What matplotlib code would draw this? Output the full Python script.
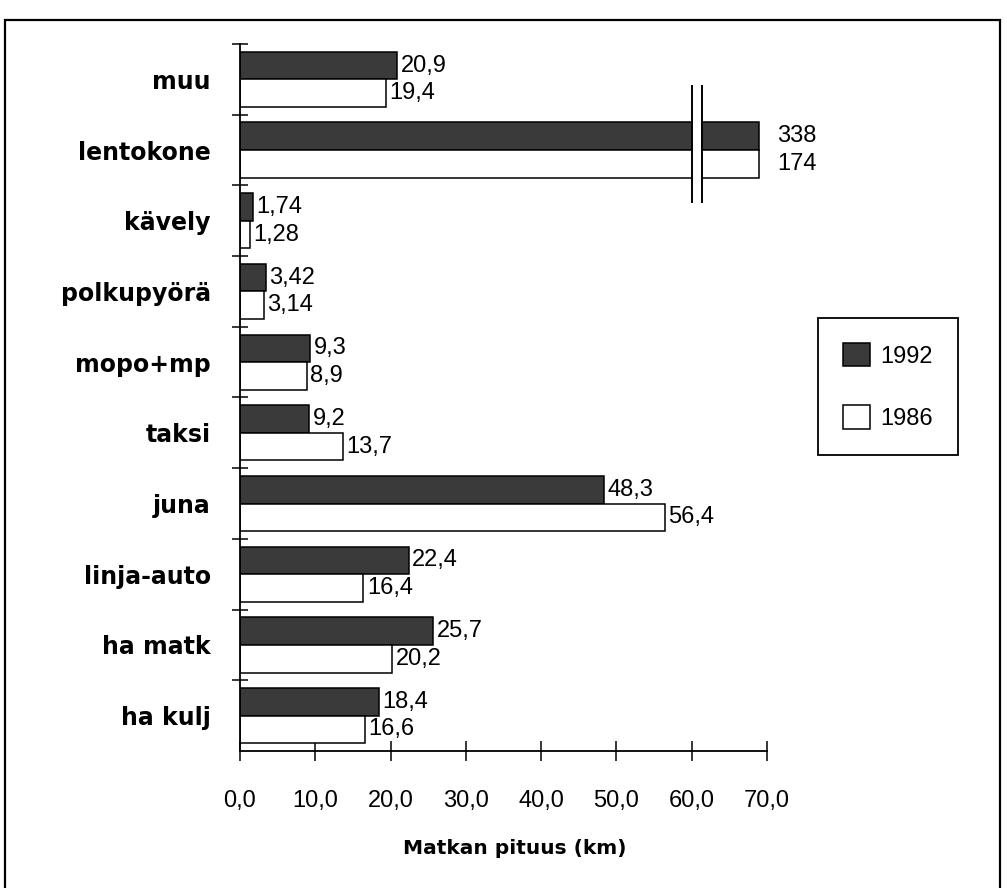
import matplotlib.pyplot as plt
from matplotlib.patches import Rectangle

# matkan keskipituus kulkutavoittain (km)
categories = ['muu', 'lentokone', 'kävely', 'polkupyörä', 'mopo+mp',
              'taksi', 'juna', 'linja-auto', 'ha matk', 'ha kulj']
v1992 = [20.9, 338, 1.74, 3.42, 9.3, 9.2, 48.3, 22.4, 25.7, 18.4]
v1986 = [19.4, 174, 1.28, 3.14, 8.9, 13.7, 56.4, 16.4, 20.2, 16.6]
xticks = [0, 10, 20, 30, 40, 50, 60, 70]

CAP = 69.0          # katkaistun palkin piirtopituus
BREAK = (60.1, 61.3)
DARK = '#3a3a3a'
VAL_FONT = 'Liberation Sans'


def fi(v):
    return f'{v:g}'.replace('.', ',')


fig = plt.figure(figsize=(10.07, 8.88), dpi=100)
ax = fig.add_axes([240 / 1007, 1 - 751 / 888, (767 - 240) / 1007, (751 - 44) / 888])

h = 0.39
ypos = list(range(len(categories)))
for i, (a, b) in enumerate(zip(v1992, v1986)):
    for v, dy, fc in ((a, -h / 2, DARK), (b, h / 2, 'white')):
        w = min(v, CAP)
        ax.barh(i + dy, w, height=h, color=fc, edgecolor='black', linewidth=1.1, zorder=2)
        off = 2.3 if v > CAP else 0.45
        ax.text(w + off, i + dy, fi(v), va='center', ha='left',
                fontsize=17, family=VAL_FONT, zorder=4)

# akselin katkaisu lentokone-palkeissa
k = categories.index('lentokone')
ax.add_patch(Rectangle((BREAK[0], k - h - 0.05), BREAK[1] - BREAK[0], 2 * h + 0.1,
                       facecolor='white', edgecolor='none', zorder=3))
for xb in BREAK:
    ax.plot([xb, xb], [k - 0.9, k + 0.74], color='black', lw=1.4, zorder=4)

ax.set_xlim(0, 70)
ax.set_ylim(len(categories) - 0.5, -0.5)

ax.set_xticks(xticks)
ax.set_xticklabels([f'{t:.1f}'.replace('.', ',') for t in xticks],
                   fontsize=17, family=VAL_FONT)
ax.tick_params(axis='x', direction='inout', length=14, width=1.1, pad=21)

ax.set_yticks([i - 0.5 for i in range(len(categories))])
ax.set_yticklabels([])
ax.tick_params(axis='y', which='major', direction='inout', length=12, width=1.1)
ax.set_yticks(ypos, minor=True)
ax.set_yticklabels(categories, minor=True, fontsize=17, fontweight='bold')
ax.tick_params(axis='y', which='minor', length=0, pad=21)

for s in ('top', 'right'):
    ax.spines[s].set_visible(False)
for s in ('left', 'bottom'):
    ax.spines[s].set_linewidth(1.3)

ax.set_xlabel('Matkan pituus (km)', fontsize=14.5, fontweight='bold', labelpad=22)
ax.xaxis.set_label_coords(0.522, -0.125)

handles = [Rectangle((0, 0), 1, 1, facecolor=DARK, edgecolor='black', lw=1.1),
           Rectangle((0, 0), 1, 1, facecolor='white', edgecolor='black', lw=1.1)]
leg = ax.legend(handles, ['1992', '1986'], loc='upper left',
                bbox_to_anchor=(818 / 1007, 1 - 318 / 888), bbox_transform=fig.transFigure,
                prop={'family': VAL_FONT, 'size': 17}, handlelength=1.15, handleheight=1.15,
                handletextpad=0.45, labelspacing=1.6, borderpad=1.05, borderaxespad=0,
                fancybox=False, framealpha=1, edgecolor='black')
leg.get_frame().set_linewidth(1.3)

# kehys koko kuvan ympäri
fig.patches.append(Rectangle((5 / 1007, -0.1), 995 / 1007, 1.1 - 20 / 888,
                             transform=fig.transFigure, fill=False,
                             edgecolor='black', lw=1.6))

plt.savefig('out.png', dpi=100)
